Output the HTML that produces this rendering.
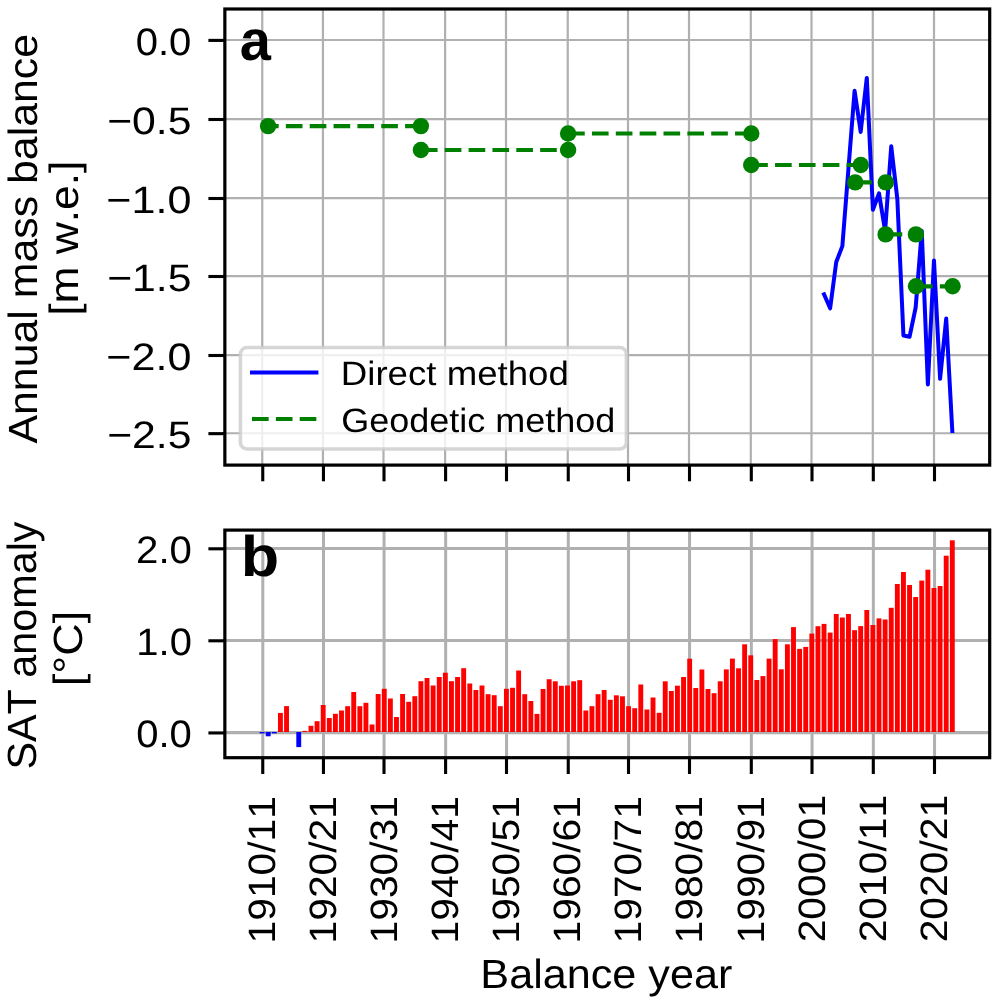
<!DOCTYPE html>
<html><head><meta charset="utf-8"><style>
html,body{margin:0;padding:0;background:#fff;}
svg{display:block;will-change:transform;font-family:"Liberation Sans",sans-serif;font-kerning:none;text-rendering:geometricPrecision;}
</style></head><body>
<svg width="1000" height="1003" viewBox="0 0 1000 1003">
<rect x="0" y="0" width="1000" height="1003" fill="#ffffff"/>
<line x1="262.25" y1="9.0" x2="262.25" y2="465.1" stroke="#b0b0b0" stroke-width="2.2"/>
<line x1="322.95" y1="9.0" x2="322.95" y2="465.1" stroke="#b0b0b0" stroke-width="2.2"/>
<line x1="383.50" y1="9.0" x2="383.50" y2="465.1" stroke="#b0b0b0" stroke-width="2.2"/>
<line x1="445.10" y1="9.0" x2="445.10" y2="465.1" stroke="#b0b0b0" stroke-width="2.2"/>
<line x1="506.00" y1="9.0" x2="506.00" y2="465.1" stroke="#b0b0b0" stroke-width="2.2"/>
<line x1="567.75" y1="9.0" x2="567.75" y2="465.1" stroke="#b0b0b0" stroke-width="2.2"/>
<line x1="628.00" y1="9.0" x2="628.00" y2="465.1" stroke="#b0b0b0" stroke-width="2.2"/>
<line x1="689.00" y1="9.0" x2="689.00" y2="465.1" stroke="#b0b0b0" stroke-width="2.2"/>
<line x1="750.80" y1="9.0" x2="750.80" y2="465.1" stroke="#b0b0b0" stroke-width="2.2"/>
<line x1="811.50" y1="9.0" x2="811.50" y2="465.1" stroke="#b0b0b0" stroke-width="2.2"/>
<line x1="872.80" y1="9.0" x2="872.80" y2="465.1" stroke="#b0b0b0" stroke-width="2.2"/>
<line x1="934.00" y1="9.0" x2="934.00" y2="465.1" stroke="#b0b0b0" stroke-width="2.2"/>
<line x1="224.85" y1="40.0" x2="989.7" y2="40.0" stroke="#b0b0b0" stroke-width="2.2"/>
<line x1="224.85" y1="119.1" x2="989.7" y2="119.1" stroke="#b0b0b0" stroke-width="2.2"/>
<line x1="224.85" y1="198.1" x2="989.7" y2="198.1" stroke="#b0b0b0" stroke-width="2.2"/>
<line x1="224.85" y1="276.1" x2="989.7" y2="276.1" stroke="#b0b0b0" stroke-width="2.2"/>
<line x1="224.85" y1="355.1" x2="989.7" y2="355.1" stroke="#b0b0b0" stroke-width="2.2"/>
<line x1="224.85" y1="433.25" x2="989.7" y2="433.25" stroke="#b0b0b0" stroke-width="2.2"/>
<polyline points="824.04,294.30 830.14,308.30 836.25,262.00 842.36,246.10 848.47,168.50 854.58,90.80 860.68,131.90 866.79,77.90 872.90,209.70 879.01,193.40 885.12,231.00 891.22,146.30 897.33,199.00 903.44,335.50 909.55,336.80 915.66,307.50 921.76,231.00 927.87,384.50 933.98,260.40 940.09,378.80 946.20,318.60 952.30,431.00" fill="none" stroke="#0000ff" stroke-width="4" stroke-linejoin="round" stroke-linecap="square"/>
<line x1="262.0" y1="126.1" x2="420.9" y2="126.1" stroke="#008000" stroke-width="4.2" stroke-dasharray="16.65 7.2"/>
<line x1="420.9" y1="150.0" x2="568.1" y2="150.0" stroke="#008000" stroke-width="4.2" stroke-dasharray="16.65 7.2"/>
<line x1="568.1" y1="133.5" x2="751.3" y2="133.5" stroke="#008000" stroke-width="4.2" stroke-dasharray="16.65 7.2"/>
<line x1="751.2" y1="165.0" x2="860.8" y2="165.0" stroke="#008000" stroke-width="4.2" stroke-dasharray="16.65 7.2"/>
<line x1="855.2" y1="182.4" x2="885.8" y2="182.4" stroke="#008000" stroke-width="4.2" stroke-dasharray="16.65 7.2"/>
<line x1="885.6" y1="234.4" x2="915.9" y2="234.4" stroke="#008000" stroke-width="4.2" stroke-dasharray="16.65 7.2"/>
<line x1="916.0" y1="286.3" x2="952.6" y2="286.3" stroke="#008000" stroke-width="4.2" stroke-dasharray="16.65 7.2"/>
<circle cx="268.1" cy="126.1" r="8.2" fill="#008000"/>
<circle cx="420.9" cy="126.1" r="8.2" fill="#008000"/>
<circle cx="420.9" cy="150.0" r="8.2" fill="#008000"/>
<circle cx="568.1" cy="150.0" r="8.2" fill="#008000"/>
<circle cx="568.1" cy="133.5" r="8.2" fill="#008000"/>
<circle cx="751.3" cy="133.5" r="8.2" fill="#008000"/>
<circle cx="751.2" cy="165.0" r="8.2" fill="#008000"/>
<circle cx="860.8" cy="165.0" r="8.2" fill="#008000"/>
<circle cx="855.2" cy="182.4" r="8.2" fill="#008000"/>
<circle cx="885.8" cy="182.4" r="8.2" fill="#008000"/>
<circle cx="885.6" cy="234.4" r="8.2" fill="#008000"/>
<circle cx="915.9" cy="234.4" r="8.2" fill="#008000"/>
<circle cx="916.0" cy="286.3" r="8.2" fill="#008000"/>
<circle cx="952.6" cy="286.3" r="8.2" fill="#008000"/>
<rect x="240.4" y="347.5" width="386.0" height="101.5" rx="6.5" ry="6.5" fill="#ffffff" fill-opacity="0.8" stroke="#cccccc" stroke-opacity="0.8" stroke-width="3.6"/>
<line x1="250" y1="372.5" x2="318.4" y2="372.5" stroke="#0000ff" stroke-width="4"/>
<line x1="252" y1="419" x2="318" y2="419" stroke="#008000" stroke-width="4.2" stroke-dasharray="16.65 7.2"/>
<text transform="translate(340.79,384.50) scale(1.0870,1)" font-size="33.71" font-weight="normal" fill="#000">Direct method</text>
<text transform="translate(341.19,431.50) scale(1.0683,1)" font-size="33.71" font-weight="normal" fill="#000">Geodetic method</text>
<rect x="224.85" y="9.0" width="764.85" height="456.10" fill="none" stroke="#000" stroke-width="3.2" stroke-linejoin="miter"/>
<line x1="208.4" y1="40.40" x2="224.85" y2="40.40" stroke="#000" stroke-width="3.1"/>
<line x1="208.4" y1="119.50" x2="224.85" y2="119.50" stroke="#000" stroke-width="3.1"/>
<line x1="208.4" y1="198.50" x2="224.85" y2="198.50" stroke="#000" stroke-width="3.1"/>
<line x1="208.4" y1="276.50" x2="224.85" y2="276.50" stroke="#000" stroke-width="3.1"/>
<line x1="208.4" y1="355.50" x2="224.85" y2="355.50" stroke="#000" stroke-width="3.1"/>
<line x1="208.4" y1="433.65" x2="224.85" y2="433.65" stroke="#000" stroke-width="3.1"/>
<line x1="262.75" y1="465.1" x2="262.75" y2="481.3" stroke="#000" stroke-width="3.1"/>
<line x1="323.45" y1="465.1" x2="323.45" y2="481.3" stroke="#000" stroke-width="3.1"/>
<line x1="384.00" y1="465.1" x2="384.00" y2="481.3" stroke="#000" stroke-width="3.1"/>
<line x1="445.60" y1="465.1" x2="445.60" y2="481.3" stroke="#000" stroke-width="3.1"/>
<line x1="506.50" y1="465.1" x2="506.50" y2="481.3" stroke="#000" stroke-width="3.1"/>
<line x1="568.25" y1="465.1" x2="568.25" y2="481.3" stroke="#000" stroke-width="3.1"/>
<line x1="628.50" y1="465.1" x2="628.50" y2="481.3" stroke="#000" stroke-width="3.1"/>
<line x1="689.50" y1="465.1" x2="689.50" y2="481.3" stroke="#000" stroke-width="3.1"/>
<line x1="751.30" y1="465.1" x2="751.30" y2="481.3" stroke="#000" stroke-width="3.1"/>
<line x1="812.00" y1="465.1" x2="812.00" y2="481.3" stroke="#000" stroke-width="3.1"/>
<line x1="873.30" y1="465.1" x2="873.30" y2="481.3" stroke="#000" stroke-width="3.1"/>
<line x1="934.50" y1="465.1" x2="934.50" y2="481.3" stroke="#000" stroke-width="3.1"/>
<text transform="translate(135.65,54.70) scale(1.0484,1)" font-size="38.16" font-weight="normal" fill="#000">0.0</text>
<text transform="translate(107.14,133.80) scale(1.1198,1)" font-size="38.16" font-weight="normal" fill="#000">−0.5</text>
<text transform="translate(106.37,212.80) scale(1.1286,1)" font-size="38.16" font-weight="normal" fill="#000">−1.0</text>
<text transform="translate(107.14,290.80) scale(1.1198,1)" font-size="38.16" font-weight="normal" fill="#000">−1.5</text>
<text transform="translate(106.37,369.80) scale(1.1286,1)" font-size="38.16" font-weight="normal" fill="#000">−2.0</text>
<text transform="translate(107.14,447.95) scale(1.1198,1)" font-size="38.16" font-weight="normal" fill="#000">−2.5</text>
<text transform="translate(239.86,59.50) scale(0.9788,1)" font-size="57.24" font-weight="bold" fill="#000">a</text>
<line x1="262.80" y1="530.1" x2="262.80" y2="757.7" stroke="#b0b0b0" stroke-width="3"/>
<line x1="323.50" y1="530.1" x2="323.50" y2="757.7" stroke="#b0b0b0" stroke-width="3"/>
<line x1="384.05" y1="530.1" x2="384.05" y2="757.7" stroke="#b0b0b0" stroke-width="3"/>
<line x1="445.65" y1="530.1" x2="445.65" y2="757.7" stroke="#b0b0b0" stroke-width="3"/>
<line x1="506.55" y1="530.1" x2="506.55" y2="757.7" stroke="#b0b0b0" stroke-width="3"/>
<line x1="568.30" y1="530.1" x2="568.30" y2="757.7" stroke="#b0b0b0" stroke-width="3"/>
<line x1="628.55" y1="530.1" x2="628.55" y2="757.7" stroke="#b0b0b0" stroke-width="3"/>
<line x1="689.55" y1="530.1" x2="689.55" y2="757.7" stroke="#b0b0b0" stroke-width="3"/>
<line x1="751.35" y1="530.1" x2="751.35" y2="757.7" stroke="#b0b0b0" stroke-width="3"/>
<line x1="812.05" y1="530.1" x2="812.05" y2="757.7" stroke="#b0b0b0" stroke-width="3"/>
<line x1="873.35" y1="530.1" x2="873.35" y2="757.7" stroke="#b0b0b0" stroke-width="3"/>
<line x1="934.55" y1="530.1" x2="934.55" y2="757.7" stroke="#b0b0b0" stroke-width="3"/>
<line x1="224.85" y1="732.65" x2="989.7" y2="732.65" stroke="#b0b0b0" stroke-width="3.2"/>
<line x1="224.85" y1="640.5" x2="989.7" y2="640.5" stroke="#b0b0b0" stroke-width="3.2"/>
<line x1="224.85" y1="548.5" x2="989.7" y2="548.5" stroke="#b0b0b0" stroke-width="3.2"/>
<rect x="259.66" y="732.0" width="4.886" height="1.40" fill="#0000ff"/>
<rect x="265.77" y="732.0" width="4.886" height="4.30" fill="#0000ff"/>
<rect x="271.87" y="732.0" width="4.886" height="1.40" fill="#0000ff"/>
<rect x="277.98" y="712.90" width="4.886" height="19.10" fill="#ff0000"/>
<rect x="284.09" y="706.10" width="4.886" height="25.90" fill="#ff0000"/>
<rect x="296.31" y="732.0" width="4.886" height="15.10" fill="#0000ff"/>
<rect x="302.41" y="730.90" width="4.886" height="1.10" fill="#ff0000"/>
<rect x="308.52" y="725.80" width="4.886" height="6.20" fill="#ff0000"/>
<rect x="314.63" y="721.20" width="4.886" height="10.80" fill="#ff0000"/>
<rect x="320.74" y="705.00" width="4.886" height="27.00" fill="#ff0000"/>
<rect x="326.85" y="718.00" width="4.886" height="14.00" fill="#ff0000"/>
<rect x="332.95" y="713.80" width="4.886" height="18.20" fill="#ff0000"/>
<rect x="339.06" y="710.50" width="4.886" height="21.50" fill="#ff0000"/>
<rect x="345.17" y="706.20" width="4.886" height="25.80" fill="#ff0000"/>
<rect x="351.28" y="692.00" width="4.886" height="40.00" fill="#ff0000"/>
<rect x="357.39" y="706.20" width="4.886" height="25.80" fill="#ff0000"/>
<rect x="363.49" y="702.80" width="4.886" height="29.20" fill="#ff0000"/>
<rect x="369.60" y="724.50" width="4.886" height="7.50" fill="#ff0000"/>
<rect x="375.71" y="694.00" width="4.886" height="38.00" fill="#ff0000"/>
<rect x="381.82" y="688.80" width="4.886" height="43.20" fill="#ff0000"/>
<rect x="387.93" y="698.50" width="4.886" height="33.50" fill="#ff0000"/>
<rect x="394.03" y="717.00" width="4.886" height="15.00" fill="#ff0000"/>
<rect x="400.14" y="694.00" width="4.886" height="38.00" fill="#ff0000"/>
<rect x="406.25" y="701.80" width="4.886" height="30.20" fill="#ff0000"/>
<rect x="412.36" y="696.20" width="4.886" height="35.80" fill="#ff0000"/>
<rect x="418.47" y="681.20" width="4.886" height="50.80" fill="#ff0000"/>
<rect x="424.57" y="678.00" width="4.886" height="54.00" fill="#ff0000"/>
<rect x="430.68" y="685.50" width="4.886" height="46.50" fill="#ff0000"/>
<rect x="436.79" y="677.00" width="4.886" height="55.00" fill="#ff0000"/>
<rect x="442.90" y="672.70" width="4.886" height="59.30" fill="#ff0000"/>
<rect x="449.00" y="681.20" width="4.886" height="50.80" fill="#ff0000"/>
<rect x="455.11" y="677.00" width="4.886" height="55.00" fill="#ff0000"/>
<rect x="461.22" y="668.20" width="4.886" height="63.80" fill="#ff0000"/>
<rect x="467.33" y="683.50" width="4.886" height="48.50" fill="#ff0000"/>
<rect x="473.44" y="690.00" width="4.886" height="42.00" fill="#ff0000"/>
<rect x="479.55" y="685.50" width="4.886" height="46.50" fill="#ff0000"/>
<rect x="485.65" y="694.20" width="4.886" height="37.80" fill="#ff0000"/>
<rect x="491.76" y="695.20" width="4.886" height="36.80" fill="#ff0000"/>
<rect x="497.87" y="706.20" width="4.886" height="25.80" fill="#ff0000"/>
<rect x="503.98" y="688.80" width="4.886" height="43.20" fill="#ff0000"/>
<rect x="510.09" y="687.80" width="4.886" height="44.20" fill="#ff0000"/>
<rect x="516.19" y="670.50" width="4.886" height="61.50" fill="#ff0000"/>
<rect x="522.30" y="694.20" width="4.886" height="37.80" fill="#ff0000"/>
<rect x="528.41" y="701.00" width="4.886" height="31.00" fill="#ff0000"/>
<rect x="534.52" y="713.90" width="4.886" height="18.10" fill="#ff0000"/>
<rect x="540.62" y="689.00" width="4.886" height="43.00" fill="#ff0000"/>
<rect x="546.73" y="679.20" width="4.886" height="52.80" fill="#ff0000"/>
<rect x="552.84" y="681.30" width="4.886" height="50.70" fill="#ff0000"/>
<rect x="558.95" y="685.80" width="4.886" height="46.20" fill="#ff0000"/>
<rect x="565.06" y="685.50" width="4.886" height="46.50" fill="#ff0000"/>
<rect x="571.16" y="681.30" width="4.886" height="50.70" fill="#ff0000"/>
<rect x="577.27" y="680.20" width="4.886" height="51.80" fill="#ff0000"/>
<rect x="583.38" y="710.50" width="4.886" height="21.50" fill="#ff0000"/>
<rect x="589.49" y="706.20" width="4.886" height="25.80" fill="#ff0000"/>
<rect x="595.60" y="694.20" width="4.886" height="37.80" fill="#ff0000"/>
<rect x="601.71" y="690.00" width="4.886" height="42.00" fill="#ff0000"/>
<rect x="607.81" y="699.80" width="4.886" height="32.20" fill="#ff0000"/>
<rect x="613.92" y="695.30" width="4.886" height="36.70" fill="#ff0000"/>
<rect x="620.03" y="696.30" width="4.886" height="35.70" fill="#ff0000"/>
<rect x="626.14" y="706.20" width="4.886" height="25.80" fill="#ff0000"/>
<rect x="632.25" y="708.20" width="4.886" height="23.80" fill="#ff0000"/>
<rect x="638.35" y="684.50" width="4.886" height="47.50" fill="#ff0000"/>
<rect x="644.46" y="709.50" width="4.886" height="22.50" fill="#ff0000"/>
<rect x="650.57" y="697.50" width="4.886" height="34.50" fill="#ff0000"/>
<rect x="656.68" y="712.80" width="4.886" height="19.20" fill="#ff0000"/>
<rect x="662.79" y="681.30" width="4.886" height="50.70" fill="#ff0000"/>
<rect x="668.89" y="691.00" width="4.886" height="41.00" fill="#ff0000"/>
<rect x="675.00" y="685.70" width="4.886" height="46.30" fill="#ff0000"/>
<rect x="681.11" y="677.00" width="4.886" height="55.00" fill="#ff0000"/>
<rect x="687.22" y="658.70" width="4.886" height="73.30" fill="#ff0000"/>
<rect x="693.33" y="688.00" width="4.886" height="44.00" fill="#ff0000"/>
<rect x="699.43" y="669.50" width="4.886" height="62.50" fill="#ff0000"/>
<rect x="705.54" y="689.00" width="4.886" height="43.00" fill="#ff0000"/>
<rect x="711.65" y="693.20" width="4.886" height="38.80" fill="#ff0000"/>
<rect x="717.76" y="681.30" width="4.886" height="50.70" fill="#ff0000"/>
<rect x="723.87" y="669.40" width="4.886" height="62.60" fill="#ff0000"/>
<rect x="729.97" y="658.60" width="4.886" height="73.40" fill="#ff0000"/>
<rect x="736.08" y="668.30" width="4.886" height="63.70" fill="#ff0000"/>
<rect x="742.19" y="644.30" width="4.886" height="87.70" fill="#ff0000"/>
<rect x="748.30" y="655.30" width="4.886" height="76.70" fill="#ff0000"/>
<rect x="754.40" y="680.00" width="4.886" height="52.00" fill="#ff0000"/>
<rect x="760.51" y="676.10" width="4.886" height="55.90" fill="#ff0000"/>
<rect x="766.62" y="658.60" width="4.886" height="73.40" fill="#ff0000"/>
<rect x="772.73" y="639.10" width="4.886" height="92.90" fill="#ff0000"/>
<rect x="778.84" y="669.30" width="4.886" height="62.70" fill="#ff0000"/>
<rect x="784.95" y="644.30" width="4.886" height="87.70" fill="#ff0000"/>
<rect x="791.05" y="627.10" width="4.886" height="104.90" fill="#ff0000"/>
<rect x="797.16" y="648.90" width="4.886" height="83.10" fill="#ff0000"/>
<rect x="803.27" y="646.90" width="4.886" height="85.10" fill="#ff0000"/>
<rect x="809.38" y="633.60" width="4.886" height="98.40" fill="#ff0000"/>
<rect x="815.49" y="626.20" width="4.886" height="105.80" fill="#ff0000"/>
<rect x="821.59" y="623.90" width="4.886" height="108.10" fill="#ff0000"/>
<rect x="827.70" y="632.60" width="4.886" height="99.40" fill="#ff0000"/>
<rect x="833.81" y="614.00" width="4.886" height="118.00" fill="#ff0000"/>
<rect x="839.92" y="617.50" width="4.886" height="114.50" fill="#ff0000"/>
<rect x="846.02" y="614.00" width="4.886" height="118.00" fill="#ff0000"/>
<rect x="852.13" y="630.20" width="4.886" height="101.80" fill="#ff0000"/>
<rect x="858.24" y="626.10" width="4.886" height="105.90" fill="#ff0000"/>
<rect x="864.35" y="610.00" width="4.886" height="122.00" fill="#ff0000"/>
<rect x="870.46" y="625.00" width="4.886" height="107.00" fill="#ff0000"/>
<rect x="876.57" y="618.40" width="4.886" height="113.60" fill="#ff0000"/>
<rect x="882.67" y="619.50" width="4.886" height="112.50" fill="#ff0000"/>
<rect x="888.78" y="607.80" width="4.886" height="124.20" fill="#ff0000"/>
<rect x="894.89" y="584.00" width="4.886" height="148.00" fill="#ff0000"/>
<rect x="901.00" y="572.00" width="4.886" height="160.00" fill="#ff0000"/>
<rect x="907.11" y="585.00" width="4.886" height="147.00" fill="#ff0000"/>
<rect x="913.21" y="597.00" width="4.886" height="135.00" fill="#ff0000"/>
<rect x="919.32" y="580.60" width="4.886" height="151.40" fill="#ff0000"/>
<rect x="925.43" y="569.70" width="4.886" height="162.30" fill="#ff0000"/>
<rect x="931.54" y="588.00" width="4.886" height="144.00" fill="#ff0000"/>
<rect x="937.64" y="586.00" width="4.886" height="146.00" fill="#ff0000"/>
<rect x="943.75" y="555.70" width="4.886" height="176.30" fill="#ff0000"/>
<rect x="949.86" y="540.30" width="4.886" height="191.70" fill="#ff0000"/>
<rect x="224.85" y="530.1" width="764.85" height="227.60" fill="none" stroke="#000" stroke-width="3.2"/>
<line x1="208.4" y1="732.95" x2="224.85" y2="732.95" stroke="#000" stroke-width="3.1"/>
<line x1="208.4" y1="640.80" x2="224.85" y2="640.80" stroke="#000" stroke-width="3.1"/>
<line x1="208.4" y1="548.80" x2="224.85" y2="548.80" stroke="#000" stroke-width="3.1"/>
<line x1="262.75" y1="757.7" x2="262.75" y2="774" stroke="#000" stroke-width="3.1"/>
<line x1="323.45" y1="757.7" x2="323.45" y2="774" stroke="#000" stroke-width="3.1"/>
<line x1="384.00" y1="757.7" x2="384.00" y2="774" stroke="#000" stroke-width="3.1"/>
<line x1="445.60" y1="757.7" x2="445.60" y2="774" stroke="#000" stroke-width="3.1"/>
<line x1="506.50" y1="757.7" x2="506.50" y2="774" stroke="#000" stroke-width="3.1"/>
<line x1="568.25" y1="757.7" x2="568.25" y2="774" stroke="#000" stroke-width="3.1"/>
<line x1="628.50" y1="757.7" x2="628.50" y2="774" stroke="#000" stroke-width="3.1"/>
<line x1="689.50" y1="757.7" x2="689.50" y2="774" stroke="#000" stroke-width="3.1"/>
<line x1="751.30" y1="757.7" x2="751.30" y2="774" stroke="#000" stroke-width="3.1"/>
<line x1="812.00" y1="757.7" x2="812.00" y2="774" stroke="#000" stroke-width="3.1"/>
<line x1="873.30" y1="757.7" x2="873.30" y2="774" stroke="#000" stroke-width="3.1"/>
<line x1="934.50" y1="757.7" x2="934.50" y2="774" stroke="#000" stroke-width="3.1"/>
<text transform="translate(136.25,747.25) scale(1.0484,1)" font-size="38.16" font-weight="normal" fill="#000">0.0</text>
<text transform="translate(136.35,655.10) scale(1.0464,1)" font-size="38.16" font-weight="normal" fill="#000">1.0</text>
<text transform="translate(136.06,563.10) scale(1.0521,1)" font-size="38.16" font-weight="normal" fill="#000">2.0</text>
<text transform="translate(240.85,576.00) scale(1.0988,1)" font-size="57.24" font-weight="bold" fill="#000">b</text>
<text transform="translate(274.90,943.41) rotate(-90) scale(1.0684,1)" font-size="38.16" font-weight="normal" fill="#000">1910/11</text>
<text transform="translate(335.98,943.41) rotate(-90) scale(1.0684,1)" font-size="38.16" font-weight="normal" fill="#000">1920/21</text>
<text transform="translate(397.06,943.41) rotate(-90) scale(1.0684,1)" font-size="38.16" font-weight="normal" fill="#000">1930/31</text>
<text transform="translate(458.14,943.41) rotate(-90) scale(1.0684,1)" font-size="38.16" font-weight="normal" fill="#000">1940/41</text>
<text transform="translate(519.22,943.41) rotate(-90) scale(1.0684,1)" font-size="38.16" font-weight="normal" fill="#000">1950/51</text>
<text transform="translate(580.30,943.41) rotate(-90) scale(1.0684,1)" font-size="38.16" font-weight="normal" fill="#000">1960/61</text>
<text transform="translate(641.38,943.41) rotate(-90) scale(1.0684,1)" font-size="38.16" font-weight="normal" fill="#000">1970/71</text>
<text transform="translate(702.46,943.41) rotate(-90) scale(1.0684,1)" font-size="38.16" font-weight="normal" fill="#000">1980/81</text>
<text transform="translate(763.54,943.41) rotate(-90) scale(1.0684,1)" font-size="38.16" font-weight="normal" fill="#000">1990/91</text>
<text transform="translate(824.62,942.35) rotate(-90) scale(1.0704,1)" font-size="38.16" font-weight="normal" fill="#000">2000/01</text>
<text transform="translate(885.70,942.35) rotate(-90) scale(1.0704,1)" font-size="38.16" font-weight="normal" fill="#000">2010/11</text>
<text transform="translate(946.78,942.35) rotate(-90) scale(1.0704,1)" font-size="38.16" font-weight="normal" fill="#000">2020/21</text>
<text transform="translate(480.36,987.80) scale(1.0582,1)" font-size="40.81" font-weight="normal" fill="#000">Balance year</text>
<text transform="translate(36.80,443.56) rotate(-90) scale(1.0501,1)" font-size="40.81" font-weight="normal" fill="#000">Annual mass balance</text>
<text transform="translate(78.00,315.86) rotate(-90) scale(1.0866,1)" font-size="40.81" font-weight="normal" fill="#000">[m w.e.]</text>
<text transform="translate(36.00,769.60) rotate(-90) scale(1.0133,1)" font-size="40.81" font-weight="normal" fill="#000">SAT anomaly</text>
<text transform="translate(81.70,686.20) rotate(-90) scale(1.1014,1)" font-size="40.81" font-weight="normal" fill="#000">[°C]</text>
</svg>
</body></html>
